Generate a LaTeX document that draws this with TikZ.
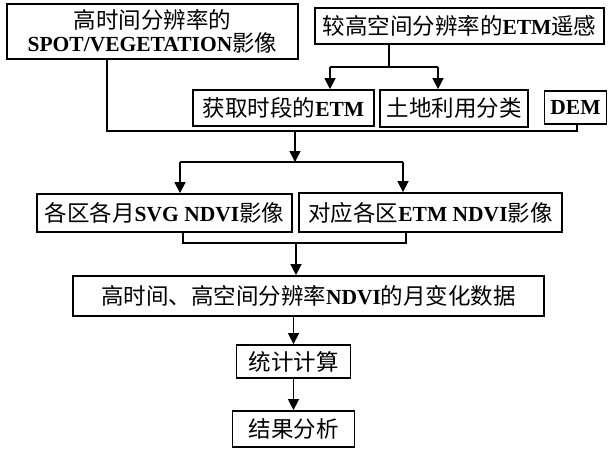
\documentclass[tikz,border=0pt]{standalone}
\usepackage{fontspec}
\setmainfont{Liberation Serif}
\newfontfamily\cjkf{Noto Sans CJK SC}
\newcommand\zhs[1]{{\mdseries\fontsize{22.5}{23}\selectfont\cjkf #1}}
\usetikzlibrary{arrows.meta}
\tikzset{
  box/.style={draw, line width=1.8pt, inner sep=0pt, align=center,
    font=\fontsize{21.5}{23}\selectfont\bfseries},
  conn/.style={line width=1.5pt},
  arr/.style={conn, -{Triangle[width=11pt,length=11pt]}}
}
\begin{document}
\begin{tikzpicture}[x=1pt,y=-1pt]
\useasboundingbox (0,0) rectangle (608,451);
\node[box, minimum width=291pt, minimum height=55pt] (b1) at (152.5,31.5) {\zhs{高时间分辨率的}\\SPOT/VEGETATION\zhs{影像}};
\node[box, minimum width=289pt, minimum height=36pt] (b2) at (459.5,26) {\zhs{较高空间分辨率的}ETM\zhs{遥感}};
\node[box, minimum width=181pt, minimum height=36pt] (b3) at (283.5,108) {\zhs{获取时段的}ETM};
\node[box, minimum width=148pt, minimum height=37pt] (b4) at (454,108.5) {\zhs{土地利用分类}};
\node[box, minimum width=62pt, minimum height=33pt] (dem) at (575.5,107.5) {DEM};
\node[box, minimum width=255pt, minimum height=38pt] (sv) at (164.5,213) {\zhs{各区各月}SVG NDVI\zhs{影像}};
\node[box, minimum width=263pt, minimum height=39pt] (en) at (430.5,212.5) {\zhs{对应各区}ETM NDVI\zhs{影像}};
\node[box, minimum width=471pt, minimum height=40pt] (hi) at (308.5,296) {\zhs{高时间、高空间分辨率}NDVI\zhs{的月变化数据}};
\node[box, minimum width=114pt, minimum height=33pt] (st) at (293.5,361.5) {\zhs{统计计算}};
\node[box, minimum width=122pt, minimum height=36pt] (re) at (293.5,429) {\zhs{结果分析}};
% top merge
\coordinate (t) at (389,67);
\coordinate (tl) at (330,67);
\coordinate (tr) at (438,67);
\draw[conn] (t |- b2.south) -- (t);
\draw[conn] (tl) -- (tr);
\draw[arr] (tl) -- (tl |- b3.north);
\draw[arr] (tr) -- (tr |- b4.north);
% collect line
\coordinate (xa) at (107,131);
\coordinate (xb) at (577,131);
\coordinate (m1) at (295,131);
\draw[conn] (xa |- b1.south) -- (xa) -- (xb) -- (xb |- dem.south);
\coordinate (h2) at (180,162);
\coordinate (h2r) at (403,162);
\draw[arr] (m1) -- (m1 |- h2);
\draw[conn] (h2) -- (h2r);
\draw[arr] (h2) -- (h2 |- sv.north);
\draw[arr] (h2r) -- (h2r |- en.north);
% bracket
\coordinate (bl) at (183,243);
\coordinate (br) at (406,243);
\coordinate (bm) at (296,243);
\draw[conn] (bl |- sv.south) -- (bl) -- (br) -- (br |- en.south);
\draw[arr] (bm) -- (bm |- hi.north);
\draw[arr] (st.north |- hi.south) -- (st.north);
\draw[arr] (st.south) -- (re.north);
\end{tikzpicture}
\end{document}
